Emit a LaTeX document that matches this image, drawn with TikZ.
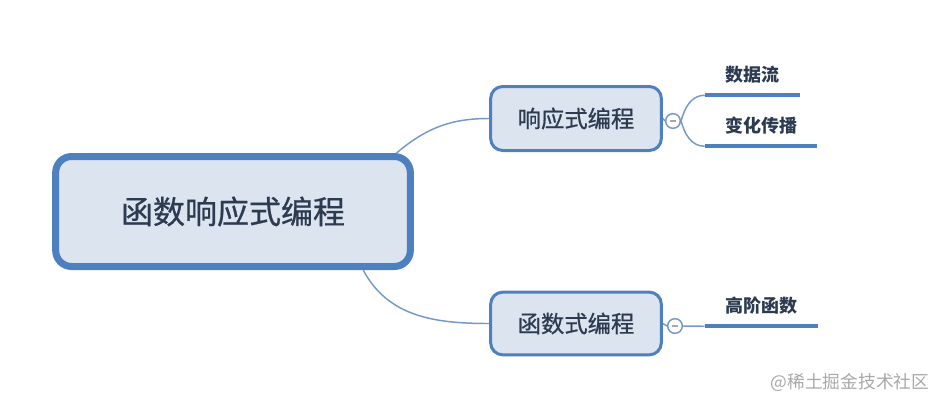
\documentclass[tikz,border=0pt]{standalone}
\usepackage{fontspec}
\newfontfamily\cjk{Noto Sans CJK SC}
\newfontfamily\cjkmid{Noto Sans CJK SC}[FakeBold=0.7]
\usetikzlibrary{positioning}
\definecolor{cborder}{HTML}{4E7FBF}
\definecolor{cfill}{HTML}{DCE4EF}
\definecolor{clink}{HTML}{7598CB}
\definecolor{ctext}{HTML}{2C3B50}
\definecolor{cgrey}{HTML}{A8A8A8}
\tikzset{
  topic/.style={draw=cborder, fill=cfill, line width=#1, rounded corners=9pt, text=ctext, align=center, inner sep=0pt},
  topic/.default=2.25pt,
  link/.style={draw=clink, line width=1.1pt},
  fold/.style={circle, draw=clink, fill=white, line width=1.1pt, minimum size=11pt, inner sep=0pt,
    path picture={\draw[cgrey, line width=0.9pt] ([xshift=-2.5pt]path picture bounding box.center) -- ([xshift=2.5pt]path picture bounding box.center);}},
  leaf/.style={minimum height=30pt, inner sep=0pt, text=ctext, font=\cjk\bfseries\fontsize{13.5}{16}\selectfont},
  leafline/.style={draw=cborder, line width=3pt},
}
\begin{document}
\begin{tikzpicture}[x=0.75pt, y=-0.75pt]
  \useasboundingbox (0,0) rectangle (945,407);
  \node[topic=5.25pt, rounded corners=12pt, minimum width=266pt, minimum height=82.5pt, font=\cjkmid\fontsize{24}{28}\selectfont] (main) at (233,211.5) {函数响应式编程};
  \node[topic, minimum width=128pt, minimum height=48pt, font=\cjkmid\fontsize{17.5}{20}\selectfont] (react) at (576,118.5) {响应式编程};
  \node[topic, minimum width=128pt, minimum height=47pt, font=\cjkmid\fontsize{17.5}{20}\selectfont] (func) at (576,323.5) {函数式编程};
  \draw[link] ([xshift=-13pt]main.north east) to[out=40, in=180] (react.west);
  \draw[link] ([xshift=-38pt]main.south east) to[out=-62, in=180] (func.west);
  \node[fold] (foldr) at (673,121) {};
  \node[fold] (foldf) at (675,326) {};
  \draw[link] (react.east) -- (foldr.west);
  \draw[link] (func.east) -- (foldf.west);
  \node[leaf, minimum width=71.25pt] (flow) at (752.5,75) {数据流};
  \node[leaf, minimum width=84pt] (change) at (761,126) {变化传播};
  \node[leaf, minimum width=84.75pt] (hof) at (761.5,306) {高阶函数};
  \draw[leafline] (flow.south west) -- (flow.south east);
  \draw[leafline] (change.south west) -- (change.south east);
  \draw[leafline] (hof.south west) -- (hof.south east);
  \draw[link] (foldr.east) to[out=75, in=180] (flow.south west);
  \draw[link] (foldr.east) to[out=-75, in=180] (change.south west);
  \draw[link] (foldf.east) -- (hof.south west);
  \node[text=cgrey, font=\cjk\fontsize{13.3}{16}\selectfont] (mark) at (850,382) {@稀土掘金技术社区};
\end{tikzpicture}
\end{document}
